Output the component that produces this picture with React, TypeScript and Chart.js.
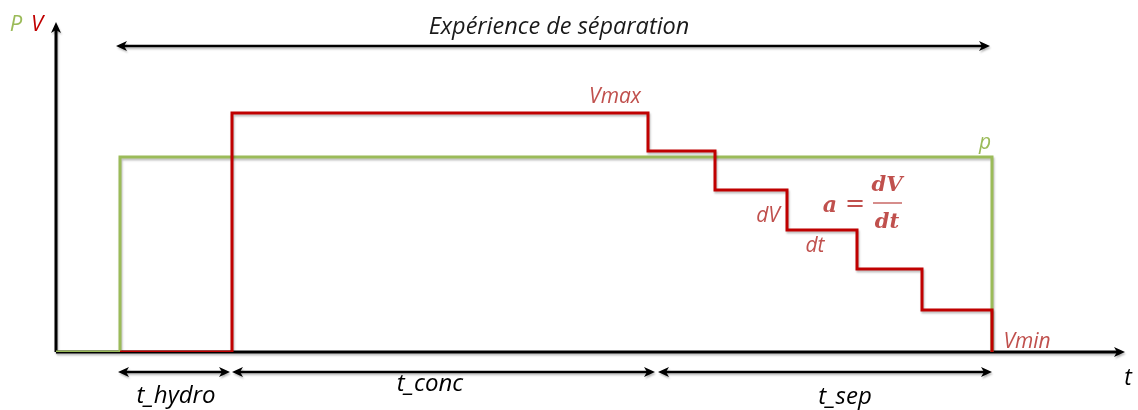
import React, { useEffect, useRef } from "react";
import { Chart, registerables } from "chart.js";

Chart.register(...registerables);

// time values (arbitrary units)
const pTimes = [0, 6.4, 93.6];
const pValues = [0, 19.5, 0];
const vTimes = [6.4, 17.6, 59.2, 65.9, 73.1, 80.1, 86.6, 93.6];
const vValues = [0, 23.9, 20.1, 16.2, 12.2, 8.3, 4.2, 0];

// phase boundaries (for the bottom interval arrows)
const phaseBounds = [6.2, 17.4, 17.6, 59.9, 60.2, 93.6];
const phaseLabels = ["t_hydro", "t_conc", "t_sep"];
const phaseLabelPos = [
  [12.0, -4.4],
  [37.4, -3.2],
  [78.9, -4.5],
];

const GREEN = "#9BBB59";
const RED = "#C00000";
const RED_TXT = "#C0504D";
const FONT = "'Open Sans', Lato, sans-serif";

function arrowHead(ctx: CanvasRenderingContext2D, x: number, y: number, dir: number, vertical = false) {
  const L = 11, W = 5;
  ctx.beginPath();
  if (!vertical) {
    ctx.moveTo(x, y);
    ctx.lineTo(x - dir * L, y - W);
    ctx.lineTo(x - dir * (L - 3), y);
    ctx.lineTo(x - dir * L, y + W);
  } else {
    ctx.moveTo(x, y);
    ctx.lineTo(x - W, y - dir * L);
    ctx.lineTo(x, y - dir * (L - 3));
    ctx.lineTo(x + W, y - dir * L);
  }
  ctx.closePath();
  ctx.fill();
}

function hArrow(ctx: CanvasRenderingContext2D, x1: number, x2: number, y: number, both: boolean) {
  ctx.beginPath();
  ctx.moveTo(both ? x1 + 6 : x1, y);
  ctx.lineTo(x2 - 6, y);
  ctx.stroke();
  arrowHead(ctx, x2, y, 1);
  if (both) arrowHead(ctx, x1, y, -1);
}

function setShadow(ctx: CanvasRenderingContext2D) {
  ctx.shadowColor = "rgba(0,0,0,0.25)";
  ctx.shadowOffsetX = 1;
  ctx.shadowOffsetY = 2;
  ctx.shadowBlur = 2;
}

const decorPlugin = {
  id: "decor",
  beforeDatasetsDraw(chart: any) {
    const { ctx, chartArea: a } = chart;
    ctx.save();
    ctx.strokeStyle = "#000";
    ctx.fillStyle = "#000";
    ctx.lineWidth = 3;
    setShadow(ctx);
    // y axis
    ctx.beginPath();
    ctx.moveTo(a.left, a.bottom);
    ctx.lineTo(a.left, a.top + 6);
    ctx.stroke();
    arrowHead(ctx, a.left, a.top, -1, true);
    // x axis
    ctx.beginPath();
    ctx.moveTo(a.left, a.bottom);
    ctx.lineTo(a.right - 6, a.bottom);
    ctx.stroke();
    arrowHead(ctx, a.right, a.bottom, 1);
    ctx.restore();
    ctx.save();
    setShadow(ctx);
  },
  afterDatasetsDraw(chart: any) {
    const { ctx } = chart;
    ctx.restore();
    const xs = chart.scales.x;
    const ys = chart.scales.y;
    const X = (v: number) => xs.getPixelForValue(v);
    const Y = (v: number) => ys.getPixelForValue(v);
    ctx.save();
    ctx.strokeStyle = "#000";
    ctx.fillStyle = "#000";
    ctx.lineWidth = 2.5;
    setShadow(ctx);
    // top experiment arrow
    hArrow(ctx, X(6.0), X(93.4), Y(30.6), true);
    // phase arrows
    for (let i = 0; i < phaseLabels.length; i++) {
      hArrow(ctx, X(phaseBounds[2 * i]), X(phaseBounds[2 * i + 1]), Y(-2.0), true);
    }
    ctx.restore();

    ctx.save();
    ctx.textAlign = "center";
    ctx.textBaseline = "middle";
    const txt = (s: string, x: number, y: number, color: string, size: number, weight = "normal") => {
      ctx.fillStyle = color;
      ctx.font = `italic ${weight} ${size}px ${FONT}`;
      ctx.fillText(s, X(x), Y(y));
    };
    txt("P", -4.0, 32.7, GREEN, 22);
    txt("V", -1.9, 32.7, RED, 22);
    txt("Expérience de séparation", 50.3, 32.5, "#1a1a1a", 23.5);
    txt("Vmax", 55.9, 25.5, RED_TXT, 21);
    txt("p", 92.9, 20.9, GREEN, 21);
    txt("dV", 71.2, 13.6, RED_TXT, 21);
    txt("dt", 75.9, 10.6, RED_TXT, 21);
    txt("Vmin", 97.1, 1.0, RED_TXT, 21);
    txt("t", 107.2, -2.6, "#000", 23);
    for (let i = 0; i < phaseLabels.length; i++) {
      txt(phaseLabels[i], phaseLabelPos[i][0], phaseLabelPos[i][1], "#000", 24);
    }
    // formula a = dV/dt
    ctx.fillStyle = RED_TXT;
    ctx.font = `italic bold 22px 'DejaVu Serif', 'Liberation Serif', serif`;
    ctx.fillText("a", X(77.4), Y(14.6));
    ctx.font = `24px 'DejaVu Serif', serif`;
    ctx.fillText("=", X(79.9), Y(14.7));
    ctx.font = `italic bold 21px 'DejaVu Serif', 'Liberation Serif', serif`;
    ctx.fillText("dV", X(83.1), Y(16.6));
    ctx.fillText("dt", X(83.1), Y(12.9));
    ctx.strokeStyle = RED_TXT;
    ctx.lineWidth = 1.3;
    ctx.beginPath();
    ctx.moveTo(X(81.7), Y(14.9));
    ctx.lineTo(X(84.6), Y(14.9));
    ctx.stroke();
    ctx.restore();
  },
};

export default function App() {
  const ref = useRef<HTMLCanvasElement>(null);
  useEffect(() => {
    if (!ref.current) return;
    const chart = new Chart(ref.current, {
      type: "line",
      data: {
        datasets: [
          {
            label: "V",
            data: vTimes.map((t, i) => ({ x: t, y: vValues[i] })),
            borderColor: RED,
            borderWidth: 3,
            stepped: "before",
            pointRadius: 0,
            fill: false,
            order: 0,
          },
          {
            label: "P",
            data: pTimes.map((t, i) => ({ x: t, y: pValues[i] })),
            borderColor: GREEN,
            borderWidth: 3,
            stepped: "before",
            pointRadius: 0,
            fill: false,
            order: 1,
          },
        ],
      },
      options: {
        responsive: false,
        animation: false,
        layout: { padding: { left: 56, right: 13, top: 22, bottom: 58 } },
        plugins: { legend: { display: false }, tooltip: { enabled: false } },
        scales: {
          x: { type: "linear", min: 0, max: 106.9, display: false },
          y: { type: "linear", min: 0, max: 33, display: false },
        },
      },
      plugins: [decorPlugin],
    });
    return () => chart.destroy();
  }, []);
  return (
    <div style={{ position: "absolute", left: 0, top: 0, width: 1138, height: 410, background: "#fff" }}>
      <canvas ref={ref} width={1138} height={410} />
    </div>
  );
}
